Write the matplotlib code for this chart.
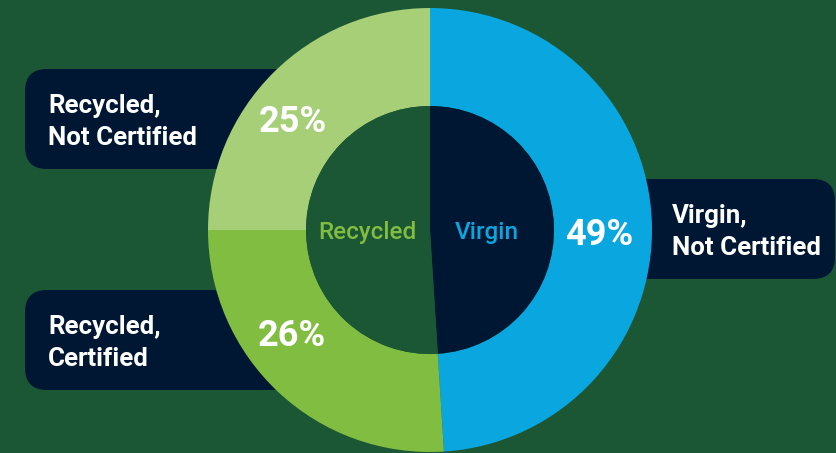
import numpy as np
import matplotlib
matplotlib.use("Agg")
import matplotlib.pyplot as plt
from matplotlib.patches import FancyBboxPatch

# ---- data ----
categories = ["Virgin,\nNot Certified", "Recycled,\nCertified", "Recycled,\nNot Certified"]
shares = [49, 26, 25]
groups = ["Virgin", "Recycled"]
group_shares = [49, 51]

# ---- style ----
BG = "#1b5734"
NAVY = "#001733"
BLUE = "#0aa6df"
GREEN = "#80bd41"
LIGHT = "#a7cf78"
seg_colors = [BLUE, GREEN, LIGHT]
group_colors = [NAVY, BG]
group_text_colors = [BLUE, GREEN]

W, H = 836, 453
cx, cy = 430, H - 230
R_OUT, R_IN = 222, 124

fig = plt.figure(figsize=(W / 100, H / 100), dpi=100, facecolor=BG)
ax = fig.add_axes([0, 0, 1, 1])
ax.set_facecolor(BG)

# label boxes (behind donut): (x, y_top_img, width, height)
boxes = [(25, 69, 290, 100), (25, 290, 290, 100), (560, 179, 275, 100)]
box_text_x = [48, 48, 672]
box_order = [2, 1, 0]  # category index for each box
for (bx, by, bw, bh), tx, ci in zip(boxes, box_text_x, box_order):
    p = FancyBboxPatch((bx, H - by - bh), bw, bh,
                       boxstyle="round,pad=0,rounding_size=22",
                       fc=NAVY, ec="none", zorder=1)
    ax.add_patch(p)
    ax.text(tx, H - by - bh / 2 - 3, categories[ci], color="white",
            fontsize=18.6, fontweight="bold", family="Roboto",
            ha="left", va="center", linespacing=1.38, zorder=5)

# outer ring
wedges, _ = ax.pie(shares, radius=R_OUT, center=(cx, cy), startangle=90,
                   counterclock=False, colors=seg_colors,
                   wedgeprops=dict(width=R_OUT - R_IN, linewidth=0),
                   frame=True)
for w in wedges:
    w.set_zorder(3)
# inner disc
iw, _ = ax.pie(group_shares, radius=R_IN, center=(cx, cy), startangle=90,
               counterclock=False, colors=group_colors,
               wedgeprops=dict(linewidth=0), frame=True)
for w in iw:
    w.set_zorder(3)

# percentage labels
label_angles = [-1.7, 217.5, 141.8]
label_r = [169, 174, 175]
for s, a, r in zip(shares, label_angles, label_r):
    x = cx + r * np.cos(np.radians(a))
    y = cy + r * np.sin(np.radians(a))
    ax.text(x, y, f"{s}%", color="white", fontsize=26, fontweight="bold",
            family="Roboto", ha="center", va="center", zorder=6)

# inner group labels
group_x = [487, 367]
for g, gx, gc in zip(groups, group_x, group_text_colors):
    ax.text(gx, cy - 2, g, color=gc, fontsize=17.5, fontweight="medium",
            family="Roboto", ha="center", va="center", zorder=6)

ax.set_xlim(0, W)
ax.set_ylim(0, H)
ax.set_aspect("equal")
ax.axis("off")

fig.savefig("out.png", dpi=100, facecolor=BG)
